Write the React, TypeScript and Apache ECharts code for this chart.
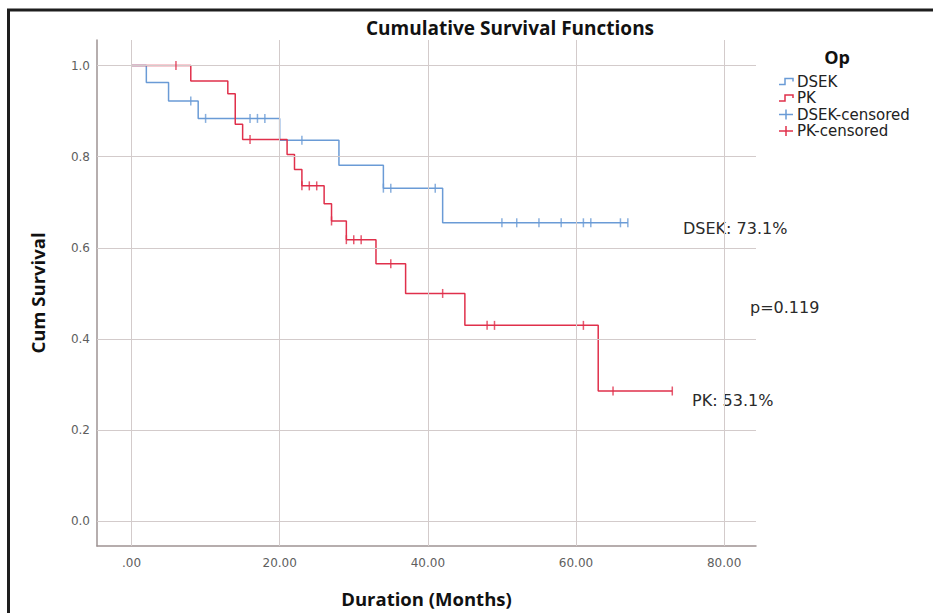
import React, { useEffect, useRef } from "react";
import * as echarts from "echarts";

// ---- data ----
const xTicks = [0, 20, 40, 60, 80];
const yTicks = [0, 0.2, 0.4, 0.6, 0.8, 1.0];

const dsekTimes = [0, 2, 5, 9, 20, 28, 34, 42, 67];
const dsekSurv = [1.0, 0.963, 0.922, 0.884, 0.836, 0.781, 0.731, 0.655, 0.655];
const dsekCensorTimes = [8, 10, 16, 17, 18, 23, 34, 35, 41, 50, 52, 55, 58, 61, 62, 66, 67];
const dsekCensorSurv = [0.922, 0.884, 0.884, 0.884, 0.884, 0.836, 0.731, 0.731, 0.731, 0.655, 0.655, 0.655, 0.655, 0.655, 0.655, 0.655, 0.655];

const pkTimes = [0, 8, 13, 14, 15, 21, 22, 23, 26, 27, 29, 33, 37, 45, 63, 73];
const pkSurv = [1.0, 0.966, 0.938, 0.871, 0.838, 0.805, 0.772, 0.736, 0.697, 0.659, 0.618, 0.565, 0.5, 0.43, 0.286, 0.286];
const pkCensorTimes = [6, 16, 23, 24, 25, 27, 29, 30, 31, 35, 42, 48, 49, 61, 65, 73];
const pkCensorSurv = [1.0, 0.838, 0.736, 0.736, 0.736, 0.659, 0.618, 0.618, 0.618, 0.565, 0.5, 0.43, 0.43, 0.43, 0.286, 0.286];

const legendItems = ["DSEK", "PK", "DSEK-censored", "PK-censored"];
const annotations = [
  { text: "DSEK: 73.1%", x: 683, y: 228 },
  { text: "p=0.119", x: 750, y: 307 },
  { text: "PK: 53.1%", x: 692, y: 400 },
];

const BLUE = "#6a9bd6";
const RED = "#e0304b";
const AXIS = "#9e9393";
const GRID = "#d3cbcb";

const zip = (a: number[], b: number[]) => a.map((v, i) => [v, b[i]]);

export default function App() {
  const ref = useRef<HTMLDivElement>(null);
  useEffect(() => {
    if (!ref.current) return;
    const chart = echarts.init(ref.current, null, { renderer: "svg" });
    const legendX = 779;
    const legendY0 = 81.5;
    const rowH = 16.5;
    const colors = [BLUE, RED, BLUE, RED];
    const legendGraphics: any[] = [];
    legendItems.forEach((name, i) => {
      const y = legendY0 + i * rowH;
      if (i < 2) {
        legendGraphics.push({
          type: "polyline",
          shape: { points: [[legendX, y + 3], [legendX + 6, y + 3], [legendX + 6, y - 3], [legendX + 14, y - 3], [legendX + 14, y]] },
          style: { stroke: colors[i], lineWidth: 1.5, fill: null },
        });
      } else {
        legendGraphics.push({
          type: "line",
          shape: { x1: legendX, y1: y, x2: legendX + 14, y2: y },
          style: { stroke: colors[i], lineWidth: 1.5 },
        });
        legendGraphics.push({
          type: "line",
          shape: { x1: legendX + 7, y1: y - 5, x2: legendX + 7, y2: y + 5 },
          style: { stroke: colors[i], lineWidth: 1.5 },
        });
      }
      legendGraphics.push({
        type: "text",
        x: 797,
        y,
        style: { text: name, fill: "#222", font: "15px 'DejaVu Sans'", lineHeight: 15, textVerticalAlign: "middle" },
      });
    });

    chart.setOption({
      animation: false,
      backgroundColor: "#fff",
      grid: { left: 97, top: 40, width: 659, height: 515, containLabel: false },
      xAxis: {
        type: "value",
        min: -4.66,
        max: 84.3,
        axisLine: { show: true, onZero: false, lineStyle: { color: AXIS, width: 1.5 } },
        axisTick: { show: false },
        splitLine: { show: false },
        axisLabel: {
          customValues: xTicks,
          formatter: (v: number) => (v === 0 ? ".00" : v.toFixed(2)),
          color: "#5e5e5e",
          fontSize: 12,
          fontFamily: "DejaVu Sans",
          margin: 11,
        },
        name: "Duration (Months)",
        nameLocation: "middle",
        nameGap: 43,
        nameTextStyle: { color: "#111", fontSize: 18.5, fontWeight: "bold", fontFamily: "Open Sans" },
      },
      yAxis: {
        type: "value",
        min: -0.054,
        max: 1.056,
        axisLine: { show: true, onZero: false, lineStyle: { color: AXIS, width: 1.5 } },
        axisTick: { show: false },
        splitLine: { show: false },
        axisLabel: {
          customValues: yTicks,
          formatter: (v: number) => v.toFixed(1),
          color: "#5e5e5e",
          fontSize: 12,
          fontFamily: "DejaVu Sans",
          margin: 7,
        },
        name: "Cum Survival",
        nameLocation: "middle",
        nameGap: 50,
        nameTextStyle: { color: "#111", fontSize: 18.5, fontWeight: "bold", fontFamily: "Open Sans" },
      },
      series: [
        {
          type: "line",
          z: 1,
          data: [[0, 0]],
          showSymbol: false,
          lineStyle: { opacity: 0 },
          silent: true,
          markLine: {
            silent: true,
            symbol: "none",
            label: { show: false },
            lineStyle: { color: GRID, width: 1, type: "solid" },
            data: [...xTicks.map((v) => ({ xAxis: v })), ...yTicks.map((v) => ({ yAxis: v }))],
          },
        },
        {
          name: "DSEK",
          type: "line",
          z: 3,
          step: "end",
          data: zip(dsekTimes, dsekSurv),
          showSymbol: false,
          lineStyle: { color: BLUE, width: 1.5 },
          itemStyle: { color: BLUE },
        },
        {
          name: "PK",
          type: "line",
          z: 4,
          step: "end",
          data: zip(pkTimes, pkSurv),
          showSymbol: false,
          lineStyle: { color: RED, width: 1.5 },
          itemStyle: { color: RED },
        },
        {
          name: "DSEK-censored",
          type: "scatter",
          z: 5,
          data: zip(dsekCensorTimes, dsekCensorSurv),
          symbol: "rect",
          symbolSize: [1.5, 9],
          itemStyle: { color: BLUE },
        },
        {
          name: "PK-censored",
          type: "scatter",
          z: 6,
          data: zip(pkCensorTimes, pkCensorSurv),
          symbol: "rect",
          symbolSize: [1.5, 9],
          itemStyle: { color: RED },
        },
      ],
      graphic: [
        { type: "line", shape: { x1: 7, y1: 10, x2: 933, y2: 10 }, style: { stroke: "#1e1e1e", lineWidth: 3 } },
        { type: "line", shape: { x1: 8.5, y1: 10, x2: 8.5, y2: 613 }, style: { stroke: "#1e1e1e", lineWidth: 3 } },
        {
          type: "text",
          x: 510,
          y: 28,
          style: { text: "Cumulative Survival Functions", fill: "#111", font: "bold 19px 'Open Sans'", textAlign: "center", textVerticalAlign: "middle" },
        },
        {
          type: "text",
          x: 837,
          y: 57,
          style: { text: "Op", fill: "#111", font: "bold 18px 'Open Sans'", textAlign: "center", textVerticalAlign: "middle" },
        },
        ...legendGraphics,
        ...annotations.map((a) => ({
          type: "text",
          x: a.x,
          y: a.y,
          style: { text: a.text, fill: "#2a2a2a", font: "16px 'DejaVu Sans'", textVerticalAlign: "middle" },
        })),
      ],
    });
    return () => chart.dispose();
  }, []);
  return <div ref={ref} style={{ position: "absolute", left: 0, top: 0, width: 933, height: 613, background: "#fff" }} />;
}
